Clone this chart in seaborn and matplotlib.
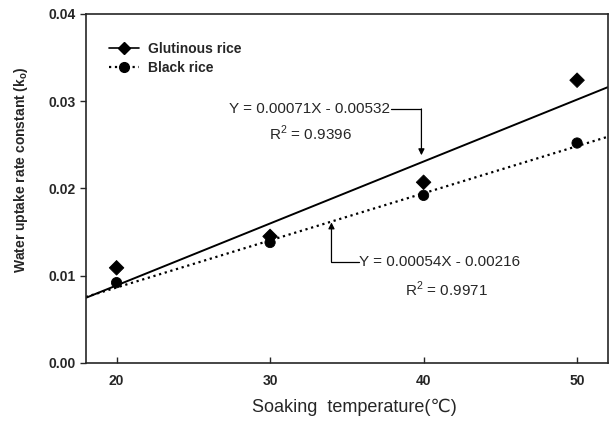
import matplotlib
matplotlib.use('Agg')
import matplotlib.pyplot as plt
import seaborn as sns
import numpy as np
import pandas as pd
from matplotlib.lines import Line2D

# data
temps = [20, 30, 40, 50]
glutinous = [0.0109, 0.0145, 0.0207, 0.0324]
black = [0.0092, 0.0138, 0.0192, 0.0252]
slopes = {'Glutinous rice': 0.00071, 'Black rice': 0.00054}
intercepts = {'Glutinous rice': -0.00532, 'Black rice': -0.00216}
fit_x = [18, 52]

sns.set_style("ticks")
plt.rcParams['font.family'] = ['Liberation Sans', 'DejaVu Sans']

df = pd.DataFrame({
    'temp': temps * 2,
    'k': glutinous + black,
    'rice': ['Glutinous rice'] * 4 + ['Black rice'] * 4,
})

fig = plt.figure(figsize=(6.09, 4.21), dpi=100)
ax = fig.add_axes([0.141, 0.138, 0.857, 0.829])

sns.scatterplot(data=df, x='temp', y='k', hue='rice', style='rice',
                markers={'Glutinous rice': 'D', 'Black rice': 'o'},
                palette={'Glutinous rice': 'black', 'Black rice': 'black'},
                s=55, edgecolor='black', legend=False, ax=ax, zorder=3)

styles = {'Glutinous rice': '-', 'Black rice': ':'}
for name in ['Glutinous rice', 'Black rice']:
    xs = np.array(fit_x)
    ys = slopes[name] * xs + intercepts[name]
    ax.plot(xs, ys, color='black', linestyle=styles[name],
            linewidth=1.4 if name == 'Glutinous rice' else 1.6)

ax.set_xlim(18, 52)
ax.set_ylim(0, 0.04)
ax.set_xticks([20, 30, 40, 50])
ax.set_yticks([0, 0.01, 0.02, 0.03, 0.04])
ax.set_yticklabels(['0.00', '0.01', '0.02', '0.03', '0.04'])
ax.tick_params(axis='y', direction='out', length=4, width=1, labelsize=10)
ax.tick_params(axis='x', direction='in', length=4, width=1, labelsize=10, pad=8)
for lab in ax.get_xticklabels() + ax.get_yticklabels():
    lab.set_fontweight('bold')
for sp in ax.spines.values():
    sp.set_linewidth(1.2)

ax.set_xlabel('Soaking  temperature(\u2103)', fontsize=13)
ax.set_ylabel('Water uptake rate constant (k$_\\mathregular{o}$)', fontsize=10,
              fontweight='bold')
ax.xaxis.set_label_coords(0.515, -0.103)
ax.yaxis.set_label_coords(-0.107, 0.553)

handles = [
    Line2D([], [], color='black', linestyle='-', marker='D', markersize=6.5, linewidth=1.2),
    Line2D([], [], color='black', linestyle=':', marker='o', markersize=7, linewidth=1.6),
]
ax.legend(handles, ['Glutinous rice', 'Black rice'], loc='upper left',
          bbox_to_anchor=(0.02, 0.955), frameon=False,
          prop={'size': 10, 'weight': 'bold'},
          handlelength=2.2, handletextpad=0.6, labelspacing=0.35)

ann = dict(fontsize=11, va='center', ha='left')
arrow = dict(arrowstyle='-|>', color='black', lw=0.9, mutation_scale=9, shrinkA=0, shrinkB=0)

# annotation for glutinous rice
ax.text(27.35, 0.0291, 'Y = 0.00071X - 0.00532', **ann)
ax.text(29.95, 0.02635, 'R$^\\mathregular{2}$ = 0.9396', **ann)
ax.plot([37.9, 39.86], [0.0291, 0.0291], color='black', linewidth=0.9)
ax.annotate('', xy=(39.86, 0.0238), xytext=(39.86, 0.0291), arrowprops=arrow)

# annotation for black rice
ax.annotate('', xy=(34.0, 0.0161), xytext=(34.0, 0.0116), arrowprops=arrow)
ax.plot([34.0, 35.8], [0.0116, 0.0116], color='black', linewidth=0.9)
ax.text(35.8, 0.0116, 'Y = 0.00054X - 0.00216', **ann)
ax.text(38.8, 0.0084, 'R$^\\mathregular{2}$ = 0.9971', **ann)

plt.savefig('out.png', dpi=100)
plt.close()
